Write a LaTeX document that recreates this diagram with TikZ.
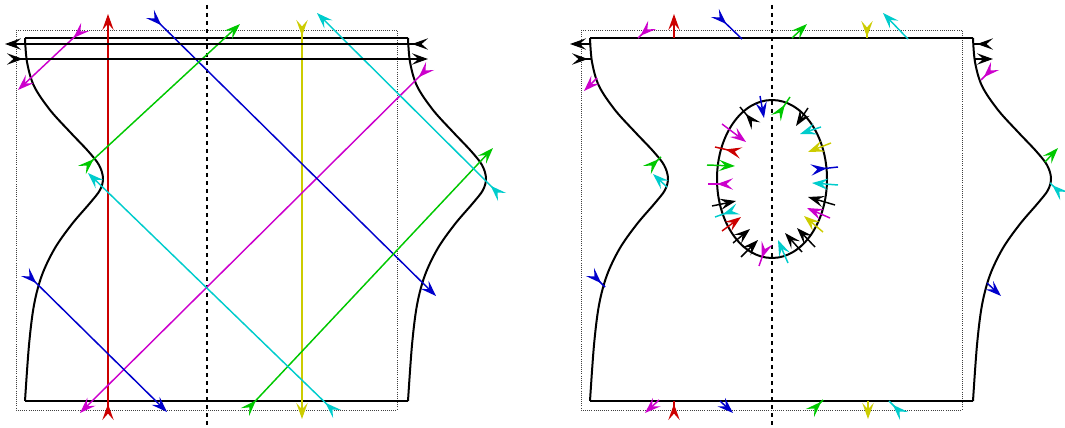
\documentclass[tikz,border=0pt]{standalone}
\usetikzlibrary{arrows.meta}
\definecolor{cR}{RGB}{204,0,0}
\definecolor{cG}{RGB}{0,200,0}
\definecolor{cB}{RGB}{0,0,204}
\definecolor{cM}{RGB}{204,0,204}
\definecolor{cC}{RGB}{0,204,204}
\definecolor{cY}{RGB}{204,204,0}
\tikzset{
  ar/.tip={Stealth[length=12pt,width=8.5pt,inset=4.8pt]},
  fw/.style={-ar, line width=1.1pt},
  bw/.style={{ar[reversed]}-, line width=1.1pt},
  fb/.style={{ar[reversed]}-ar, line width=1.1pt},
  body/.style={line width=1.5pt, black, line join=round},
  frame/.style={densely dotted, line width=0.6pt, black!75},
  axis/.style={dashed, line width=1pt, black},
}
\newcommand\SideCurve{plot[smooth,tension=0.55] coordinates {(25,38) (27,62) (34,86) (50,110) (70,132) (88,151) (99,165) (103,178) (100,190) (90,203) (72,224) (55,248) (42,275) (34,305) (29,345) (25,401)}}
\newcommand\PanelBase{%
  \draw[frame] (16,30) rectangle (397,410);
  \draw[axis] (207,5) -- (207,428);
  \draw[body] (25,38) -- (408,38);
  \draw[body] (25,401) -- (408,401);
  \draw[body] \SideCurve;
  \begin{scope}[shift={(383,0)}]
  \draw[body] \SideCurve;
  \end{scope}
}
\begin{document}
\begin{tikzpicture}[x=0.75pt,y=-0.75pt]
\useasboundingbox (0,0) rectangle (1065,428);
% ---------- left panel ----------
\PanelBase
\draw[fb, cR] (108,420) -- (108,14);
\draw[fb, cY] (302,20) -- (302,419);
\draw[fb, cM] (85,27) -- (18,90);
\draw[fb, cM] (430,66) -- (80,413);
\draw[fb, cB] (150,14) -- (436,296);
\draw[fb, cB] (25,272) -- (167,412);
\draw[fb, cG] (82,170) -- (240,24);
\draw[fb, cG] (245,412) -- (493,148);
\draw[fb, cC] (502,197) -- (317,13);
\draw[fb, cC] (337,414) -- (88,173);
\draw[fb, black, line width=1.3pt] (428,44) -- (5,44);
\draw[fb, black, line width=1.3pt] (7,59) -- (428,59);
% ---------- right panel ----------
\begin{scope}[shift={(565,0)}]
\PanelBase
\end{scope}
% top edge
\draw[fw, cR] (674,38) -- (674,14);
\draw[bw, cM] (652,25) -- (638,38);
\draw[bw, cB] (715,13) -- (742,39);
\draw[fw, cG] (792,38) -- (807,24);
\draw[bw, cY] (867,21) -- (867,38);
\draw[fw, cC] (908,39) -- (883,13);
\draw[fw, black, line width=1.3pt] (591,44) -- (570,44);
\draw[bw, black, line width=1.3pt] (572,59) -- (591,59);
\draw[bw, black, line width=1.3pt] (993,44) -- (974,44);
\draw[fw, black, line width=1.3pt] (974,59) -- (993,59);
% left curve
\draw[fw, cM] (597,78) -- (584,91);
\draw[bw, cG] (647,170) -- (661,157);
\draw[fw, cC] (667,187) -- (653,174);
\draw[bw, cB] (590,272) -- (605,287);
% right curve
\draw[bw, cM] (995,66) -- (981,80);
\draw[fw, cG] (1045,162) -- (1058,148);
\draw[bw, cC] (1064,196) -- (1050,183);
\draw[fw, cB] (987,283) -- (1001,296);
% bottom edge
\draw[fw, cM] (659,400) -- (645,413);
\draw[bw, cR] (674,420) -- (674,401);
\draw[fw, cB] (720,401) -- (733,413);
\draw[bw, cG] (810,413) -- (823,400);
\draw[fw, cY] (868,401) -- (868,419);
\draw[bw, cC] (904,416) -- (889,401);
% hole
\draw[body] (772,179) ellipse [x radius=55, y radius=79];
\draw[fw, cB] (760,96) -- (764,118);
\draw[bw, black] (756,126) -- (740,107);
\draw[fw, cM] (722,124) -- (746,142);
\draw[bw, cR] (741,153) -- (715,147);
\draw[fw, cG] (707,165) -- (735,166);
\draw[bw, cM] (733,184) -- (708,184);
\draw[fw, black] (712,206) -- (736,201);
\draw[bw, cC] (738,209) -- (715,217);
\draw[fw, cR] (722,231) -- (741,217);
\draw[fw, black] (733,243) -- (750,229);
\draw[fw, black] (741,257) -- (758,240);
\draw[bw, cM] (767,243) -- (759,266);
\draw[fw, cC] (788,263) -- (778,240);
\draw[fw, black] (802,252) -- (785,233);
\draw[fw, black] (815,247) -- (797,228);
\draw[fw, cY] (823,232) -- (804,216);
\draw[fw, cM] (830,218) -- (807,208);
\draw[fw, black] (835,205) -- (808,197);
\draw[fw, cC] (838,185) -- (812,183);
\draw[bw, cB] (811,170) -- (838,167);
\draw[fw, cY] (831,143) -- (808,152);
\draw[fw, cC] (821,127) -- (800,134);
\draw[fw, black] (808,108) -- (796,126);
\draw[bw, cG] (776,118) -- (790,97);
\end{tikzpicture}
\end{document}
